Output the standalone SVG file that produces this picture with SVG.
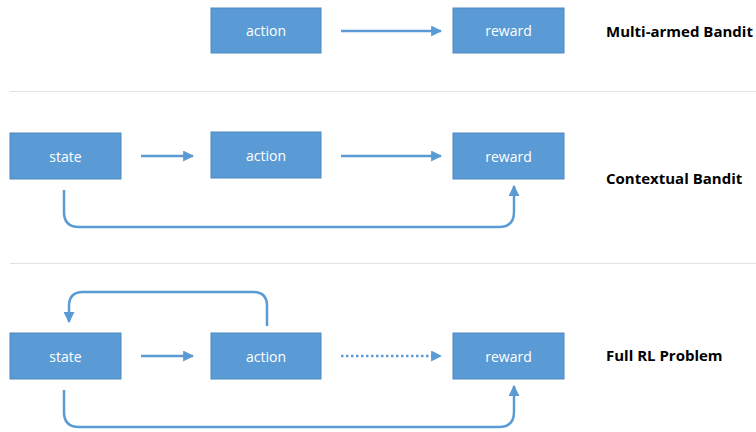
<svg xmlns="http://www.w3.org/2000/svg" width="756" height="432" viewBox="0 0 756 432">
<style>
.box{fill:#5B9BD5;stroke:#4E88C0;stroke-width:1}
.lbl{fill:#fff;font-family:"Open Sans","Liberation Sans",sans-serif;font-size:14px;text-anchor:middle;dominant-baseline:central}
.title{fill:#000;font-family:"Open Sans","Liberation Sans",sans-serif;font-size:15px;font-weight:bold;dominant-baseline:central}
.con{fill:none;stroke:#5B9BD5;stroke-width:2.5}
.dot{stroke-dasharray:2.5 2.5}
.sep{stroke:#E2E2E2;stroke-width:1}
</style>
<defs>
<marker id="ah" viewBox="0 0 10 10" refX="9" refY="5" markerWidth="4.4" markerHeight="4.4" orient="auto" markerUnits="strokeWidth">
<path d="M0,0 L10,5 L0,10 Z" fill="#5B9BD5"/>
</marker>
</defs>
<rect width="756" height="432" fill="#fff"/>
<line class="sep" x1="10" y1="91.5" x2="756" y2="91.5"/>
<line class="sep" x1="10" y1="263.5" x2="756" y2="263.5"/>
<text class="title" x="606" y="31">Multi-armed Bandit</text>
<text class="title" x="606" y="178">Contextual Bandit</text>
<text class="title" x="606" y="355">Full RL Problem</text>
<g id="connectors">
<line class="con" x1="341" y1="31" x2="441" y2="31" marker-end="url(#ah)"/>
<line class="con" x1="141" y1="156" x2="193" y2="156" marker-end="url(#ah)"/>
<line class="con" x1="341" y1="156" x2="441" y2="156" marker-end="url(#ah)"/>
<path class="con" d="M64,190 V212 Q64,227 79,227 H499 Q514,227 514,212 V186" marker-end="url(#ah)"/>
<line class="con" x1="141" y1="356" x2="193" y2="356" marker-end="url(#ah)"/>
<line class="con dot" x1="341" y1="356" x2="441" y2="356" marker-end="url(#ah)"/>
<path class="con" d="M267,326 V306 Q267,292 253,292 H83 Q69,292 69,306 V322" marker-end="url(#ah)"/>
<path class="con" d="M64,390 V412 Q64,427 79,427 H499 Q514,427 514,412 V386" marker-end="url(#ah)"/>
</g>
<g id="mab-action"><rect class="box" x="211" y="8" width="110" height="45"/><text class="lbl" x="266" y="30.5">action</text></g>
<g id="mab-reward"><rect class="box" x="453" y="8" width="111" height="45"/><text class="lbl" x="508.5" y="30.5">reward</text></g>
<g id="cb-state"><rect class="box" x="10" y="133" width="111" height="46"/><text class="lbl" x="65.5" y="156">state</text></g>
<g id="cb-action"><rect class="box" x="211" y="132" width="110" height="46"/><text class="lbl" x="266" y="155">action</text></g>
<g id="cb-reward"><rect class="box" x="453" y="133" width="111" height="46"/><text class="lbl" x="508.5" y="156">reward</text></g>
<g id="rl-state"><rect class="box" x="10" y="333" width="111" height="46"/><text class="lbl" x="65.5" y="356">state</text></g>
<g id="rl-action"><rect class="box" x="211" y="333" width="110" height="46"/><text class="lbl" x="266" y="356">action</text></g>
<g id="rl-reward"><rect class="box" x="453" y="333" width="111" height="46"/><text class="lbl" x="508.5" y="356">reward</text></g>
</svg>
